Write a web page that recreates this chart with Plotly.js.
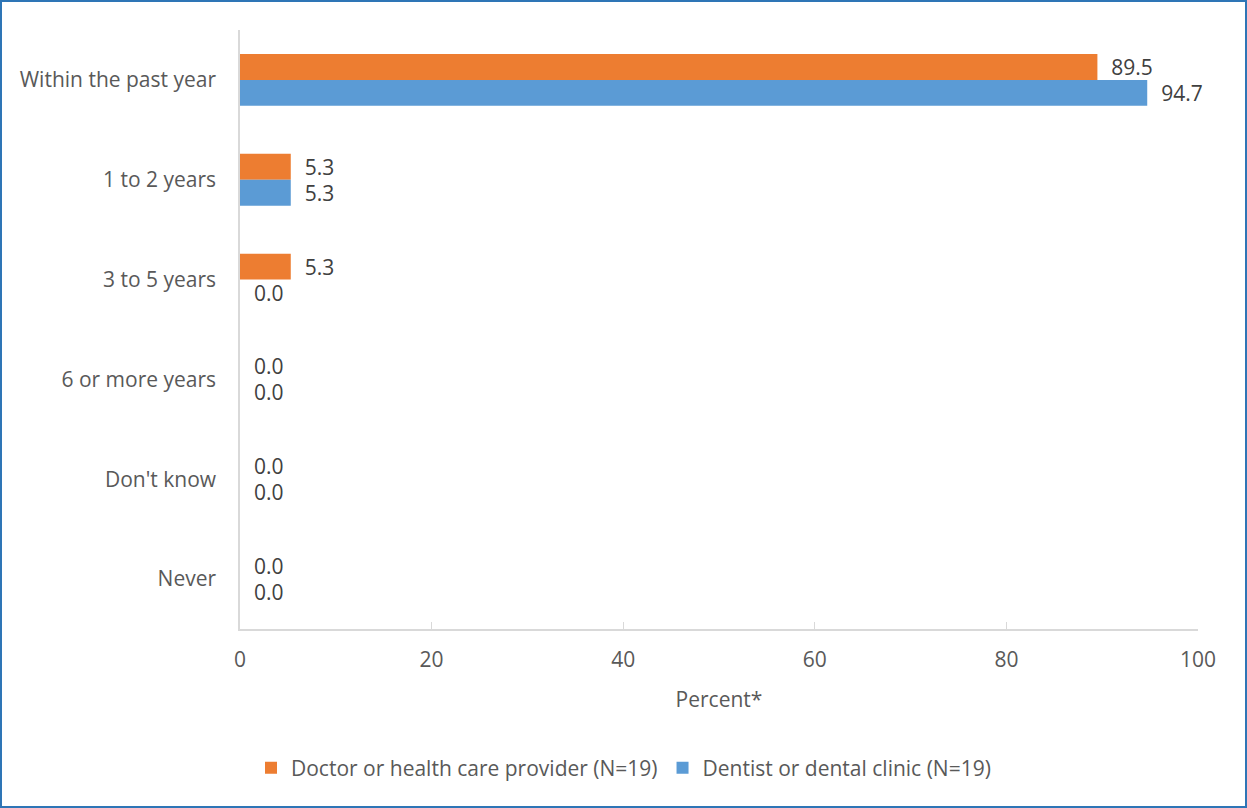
<!DOCTYPE html>
<html>
<head>
<meta charset="utf-8">
<script src="https://cdn.plot.ly/plotly-3.0.1.min.js"></script>
<style>
html,body{margin:0;padding:0;background:#fff;}
#wrap{position:relative;width:1247px;height:808px;}
#chart{position:absolute;left:0;top:0;width:1247px;height:808px;}
#frame{position:absolute;left:0;top:0;width:1247px;height:808px;box-sizing:border-box;border:2px solid #2e75b6;pointer-events:none;}
</style>
</head>
<body>
<div id="wrap"><div id="chart"></div><div id="frame"></div></div>
<script>
const categories = ["Within the past year", "1 to 2 years", "3 to 5 years", "6 or more years", "Don't know", "Never"];
const doctorValues = [89.5, 5.3, 5.3, 0.0, 0.0, 0.0];
const dentistValues = [94.7, 5.3, 0.0, 0.0, 0.0, 0.0];
const seriesNames = ["Doctor or health care provider (N=19)", "Dentist or dental clinic (N=19)"];
const xTicks = [0, 20, 40, 60, 80, 100];

const FONT = "Open Sans, sans-serif";
const FS = 21;
const mk = (name, vals, color) => ({
  type: "bar", orientation: "h", name: name,
  y: categories, x: vals,
  marker: {color: color},
  text: vals.map(v => "\u00a0\u00a0" + v.toFixed(1)),
  textposition: "outside", cliponaxis: false, constraintext: "none",
  textfont: {family: FONT, size: 21, color: "#404040"},
  hoverinfo: "x+y"
});
const data = [
  mk(seriesNames[0], doctorValues, "#ed7d31"),
  mk(seriesNames[1], dentistValues, "#5b9bd5")
];
const layout = {
  width: 1247, height: 808,
  margin: {l: 240, r: 49, t: 30, b: 179},
  paper_bgcolor: "#fff", plot_bgcolor: "#fff",
  font: {family: FONT, size: FS, color: "#595959"},
  barmode: "group", bargap: 0.48, bargroupgap: 0,
  showlegend: true,
  legend: {orientation: "h", x: 0.5, xanchor: "center", xref: "container", y: 40/808, yanchor: "middle", yref: "container",
           font: {family: FONT, size: FS, color: "#595959"}, traceorder: "normal"},
  xaxis: {range: [0, 100], tickvals: xTicks, ticktext: xTicks.map(String), showgrid: false, zeroline: false,
          showline: true, linecolor: "#d9d9d9", linewidth: 1.5, ticks: "inside", ticklen: 7, tickcolor: "#d9d9d9",
          ticklabelstandoff: 11,
          tickfont: {size: FS, color: "#595959"},
          title: {text: "Percent*", font: {size: FS, color: "#595959"}, standoff: 20}},
  yaxis: {autorange: "reversed", showgrid: false, zeroline: false, showline: true, linecolor: "#d9d9d9", linewidth: 1.5,
          ticks: "", ticklabelstandoff: 18, tickfont: {size: FS, color: "#595959"}}
};
Plotly.newPlot("chart", data, layout, {displayModeBar: false});
</script>
</body>
</html>
